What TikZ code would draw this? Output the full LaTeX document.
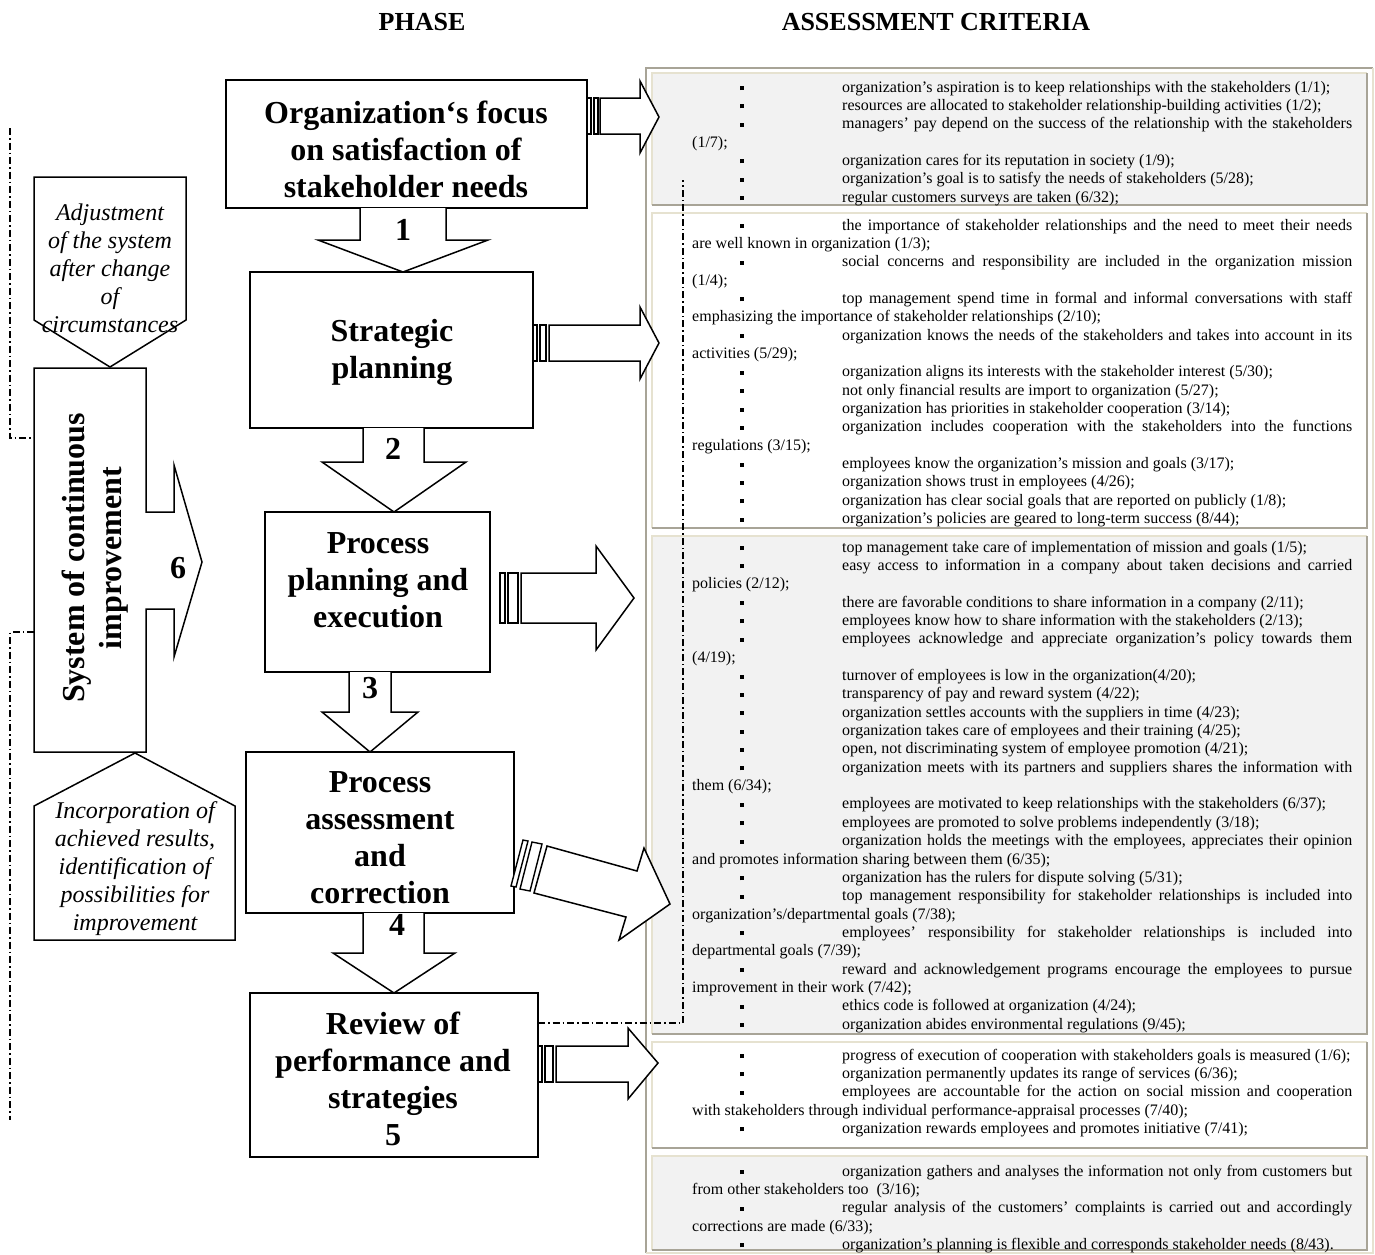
\documentclass[tikz,border=0pt]{standalone}
\usepackage{fontspec}
\setmainfont{Liberation Serif}
\definecolor{cellgray}{HTML}{F2F2F2}
\definecolor{tabdark}{HTML}{A8A497}
\definecolor{tablight}{HTML}{E6E2D0}
\newcommand\critem{\par\noindent\strut\hspace*{48pt}\rule[2pt]{4pt}{4pt}\hspace*{98pt}}
\newcommand\crfont{\fontsize{16}{18.35}\selectfont\tolerance=10000 \hyphenpenalty=10000 \exhyphenpenalty=10000 }
\tikzset{
  phasebox/.style={draw, line width=1.6pt, fill=white},
  blockarrow/.style={draw, line width=1.5pt, fill=white, line join=miter},
  stripe/.style={draw, line width=1.4pt, fill=white},
  dashdotline/.style={line width=1.3pt, dash pattern=on 7pt off 3pt on 1.5pt off 3pt},
  phasetext/.style={font=\fontsize{32}{37}\selectfont\bfseries, align=center, inner sep=0pt},
  sidetext/.style={font=\fontsize{24}{28}\selectfont\itshape, align=center, inner sep=0pt},
  numtext/.style={font=\fontsize{32}{37}\selectfont\bfseries, inner sep=0pt},
  headtext/.style={font=\fontsize{26}{30}\selectfont\bfseries, inner sep=0pt},
  celltext/.style={anchor=north west, inner sep=0pt, text width=660pt, align=justify, font=\crfont},
}
\begin{document}
\begin{tikzpicture}[x=1pt,y=-1pt]
\useasboundingbox (0,0) rectangle (1375,1254);
\fill[white] (0,0) rectangle (1375,1254);

% headers
\node[headtext] (hphase) at (422,22) {PHASE};
\node[headtext] (hcrit) at (936,22) {ASSESSMENT CRITERIA};

% ---------- right panel ----------
\draw[tabdark, line width=2pt] (646,1253) -- (646,68) -- (1373,68);
\draw[tablight, line width=2pt] (1373,68) -- (1373,1253) -- (646,1253);
\foreach \top/\bot/\col in {73/205/cellgray, 213/528/white, 536/1034/cellgray, 1042/1148/white, 1156/1250/cellgray}{
  \fill[\col] (652,\top) rectangle (1367,\bot);
  \draw[tablight, line width=2pt] (652,\bot) -- (652,\top) -- (1367,\top);
  \draw[tabdark, line width=2pt] (1367,\top) -- (1367,\bot) -- (652,\bot);
}

\node[celltext] (c1) at (692,73.5) {%
\critem organization’s aspiration is to keep relationships with the stakeholders (1/1);
\critem resources are allocated to stakeholder relationship-building activities (1/2);
\critem managers’ pay depend on the success of the relationship with the stakeholders\linebreak (1/7);
\critem organization cares for its reputation in society (1/9);
\critem organization’s goal is to satisfy the needs of stakeholders (5/28);
\critem regular customers surveys are taken (6/32);\par};

\node[celltext] (c2) at (692,211.5) {%
\critem the importance of stakeholder relationships and the need to meet their needs\linebreak are well known in organization (1/3);
\critem social concerns and responsibility are included in the organization mission\linebreak (1/4);
\critem top management spend time in formal and informal conversations with staff\linebreak emphasizing the importance of stakeholder relationships (2/10);
\critem organization knows the needs of the stakeholders and takes into account in its\linebreak activities (5/29);
\critem organization aligns its interests with the stakeholder interest (5/30);
\critem not only financial results are import to organization (5/27);
\critem organization has priorities in stakeholder cooperation (3/14);
\critem organization includes cooperation with the stakeholders into the functions\linebreak regulations (3/15);
\critem employees know the organization’s mission and goals (3/17);
\critem organization shows trust in employees (4/26);
\critem organization has clear social goals that are reported on publicly (1/8);
\critem organization’s policies are geared to long-term success (8/44);\par};

\node[celltext] (c3) at (692,533.5) {%
\critem top management take care of implementation of mission and goals (1/5);
\critem easy access to information in a company about taken decisions and carried\linebreak policies (2/12);
\critem there are favorable conditions to share information in a company (2/11);
\critem employees know how to share information with the stakeholders (2/13);
\critem employees acknowledge and appreciate organization’s policy towards them\linebreak (4/19);
\critem turnover of employees is low in the organization(4/20);
\critem transparency of pay and reward system (4/22);
\critem organization settles accounts with the suppliers in time (4/23);
\critem organization takes care of employees and their training (4/25);
\critem open, not discriminating system of employee promotion (4/21);
\critem organization meets with its partners and suppliers shares the information with\linebreak them (6/34);
\critem employees are motivated to keep relationships with the stakeholders (6/37);
\critem employees are promoted to solve problems independently (3/18);
\critem organization holds the meetings with the employees, appreciates their opinion\linebreak and promotes information sharing between them (6/35);
\critem organization has the rulers for dispute solving (5/31);
\critem top management responsibility for stakeholder relationships is included into\linebreak organization’s/departmental goals (7/38);
\critem employees’ responsibility for stakeholder relationships is included into\linebreak departmental goals (7/39);
\critem reward and acknowledgement programs encourage the employees to pursue\linebreak improvement in their work (7/42);
\critem ethics code is followed at organization (4/24);
\critem organization abides environmental regulations (9/45);\par};

\node[celltext] (c4) at (692,1041.5) {%
\critem progress of execution of cooperation with stakeholders goals is measured (1/6);
\critem organization permanently updates its range of services (6/36);
\critem employees are accountable for the action on social mission and cooperation\linebreak with stakeholders through individual performance-appraisal processes (7/40);
\critem organization rewards employees and promotes initiative (7/41);\par};

\node[celltext] (c5) at (692,1157.5) {%
\critem organization gathers and analyses the information not only from customers but\linebreak from other stakeholders too\ \ (3/16);
\critem regular analysis of the customers’ complaints is carried out and accordingly\linebreak corrections are made (6/33);
\critem organization’s planning is flexible and corresponds stakeholder needs (8/43).\par};

% dash-dot feedback lines
\draw[dashdotline] (538,1023) -- (683,1023) -- (683,180);
\draw[dashdotline] (10,128) -- (10,438) -- (34,438);
\draw[dashdotline] (34,632) -- (10,632) -- (10,1120);

% ---------- phase boxes ----------
\draw[phasebox] (226,80) rectangle (587,208);
\draw[phasebox] (250,272) rectangle (533,428);
\draw[phasebox] (265,512) rectangle (490,672);
\draw[phasebox] (246,752) rectangle (514,913);
\draw[phasebox] (250,993) rectangle (538,1157);

% down arrows
\draw[blockarrow] (360,208) -- (360,240) -- (318,240) -- (403,272) -- (488,240) -- (446,240) -- (446,208);
\draw[blockarrow] (363,428) -- (363,462) -- (322,462) -- (394,512) -- (466,462) -- (424,462) -- (424,428);
\draw[blockarrow] (349,672) -- (349,712) -- (322,712) -- (370,752) -- (418,712) -- (391,712) -- (391,672);
\draw[blockarrow] (363,913) -- (363,953) -- (333,953) -- (394,993) -- (455,953) -- (424,953) -- (424,913);

% striped right arrows
\draw[stripe] (587,98) rectangle (591,134);
\draw[stripe] (594,98) rectangle (598,134);
\draw[blockarrow] (600,98) -- (640,98) -- (640,81) -- (659,117) -- (640,153) -- (640,134) -- (600,134) -- cycle;

\draw[stripe] (533,325) rectangle (537,361);
\draw[stripe] (540,325) rectangle (546,361);
\draw[blockarrow] (549,325) -- (640,325) -- (640,307) -- (659,343) -- (640,379) -- (640,361) -- (549,361) -- cycle;

\draw[stripe] (500,573) rectangle (505,623);
\draw[stripe] (508,573) rectangle (518,623);
\draw[blockarrow] (521,573) -- (596,573) -- (596,546) -- (634,598) -- (596,650) -- (596,623) -- (521,623) -- cycle;

\draw[stripe] (523,840) -- (528,841) -- (516,887) -- (511,886) -- cycle;
\draw[stripe] (532,842) -- (542,844) -- (530,891) -- (520,889) -- cycle;
\draw[blockarrow] (547,846) -- (637,871) -- (644,848) -- (670,904) -- (619,940) -- (626,917) -- (534,893) -- cycle;

\draw[stripe] (538,1046) rectangle (542,1082);
\draw[stripe] (545,1046) rectangle (553,1082);
\draw[blockarrow] (556,1046) -- (628,1046) -- (628,1028) -- (658,1063) -- (628,1099) -- (628,1082) -- (556,1082) -- cycle;

% phase texts
\node[phasetext] (t1) at (406,149) {Organization‘s focus\\on satisfaction of\\stakeholder needs};
\node[phasetext] (t2) at (392,352) {Strategic\\planning};
\node[phasetext] (t3) at (378,580) {Process\\planning and\\execution};
\node[phasetext] (t4) at (380,838) {Process\\assessment\\and\\correction};
\node[phasetext] (t5) at (393,1079) {Review of\\performance and\\strategies\\5};
\node[numtext] (n1) at (403,230) {1};
\node[numtext] (n2) at (393,449) {2};
\node[numtext] (n3) at (370,688) {3};
\node[numtext] (n4) at (397,925) {4};

% ---------- left improvement system ----------
\draw[blockarrow] (34,177) -- (186,177) -- (186,320) -- (110,367) -- (34,320) -- cycle;
\draw[blockarrow] (34,368) -- (146,368) -- (146,512) -- (174,512) -- (174,465) -- (202,562) -- (174,657) -- (174,609) -- (146,609) -- (146,752) -- (34,752) -- cycle;
\draw[blockarrow] (135,753) -- (235,806) -- (235,940) -- (34,940) -- (34,806) -- cycle;

\node[sidetext] (adj) at (110,268) {Adjustment\\of the system\\after change\\of\\circumstances};
\node[sidetext] (inc) at (135,869) {Incorporation of\\achieved results,\\identification of\\possibilities for\\improvement};
\node[phasetext, rotate=90] (sys) at (95,558) {System of continuous\\improvement};
\node[numtext] (n6) at (178,568) {6};
\end{tikzpicture}
\end{document}
